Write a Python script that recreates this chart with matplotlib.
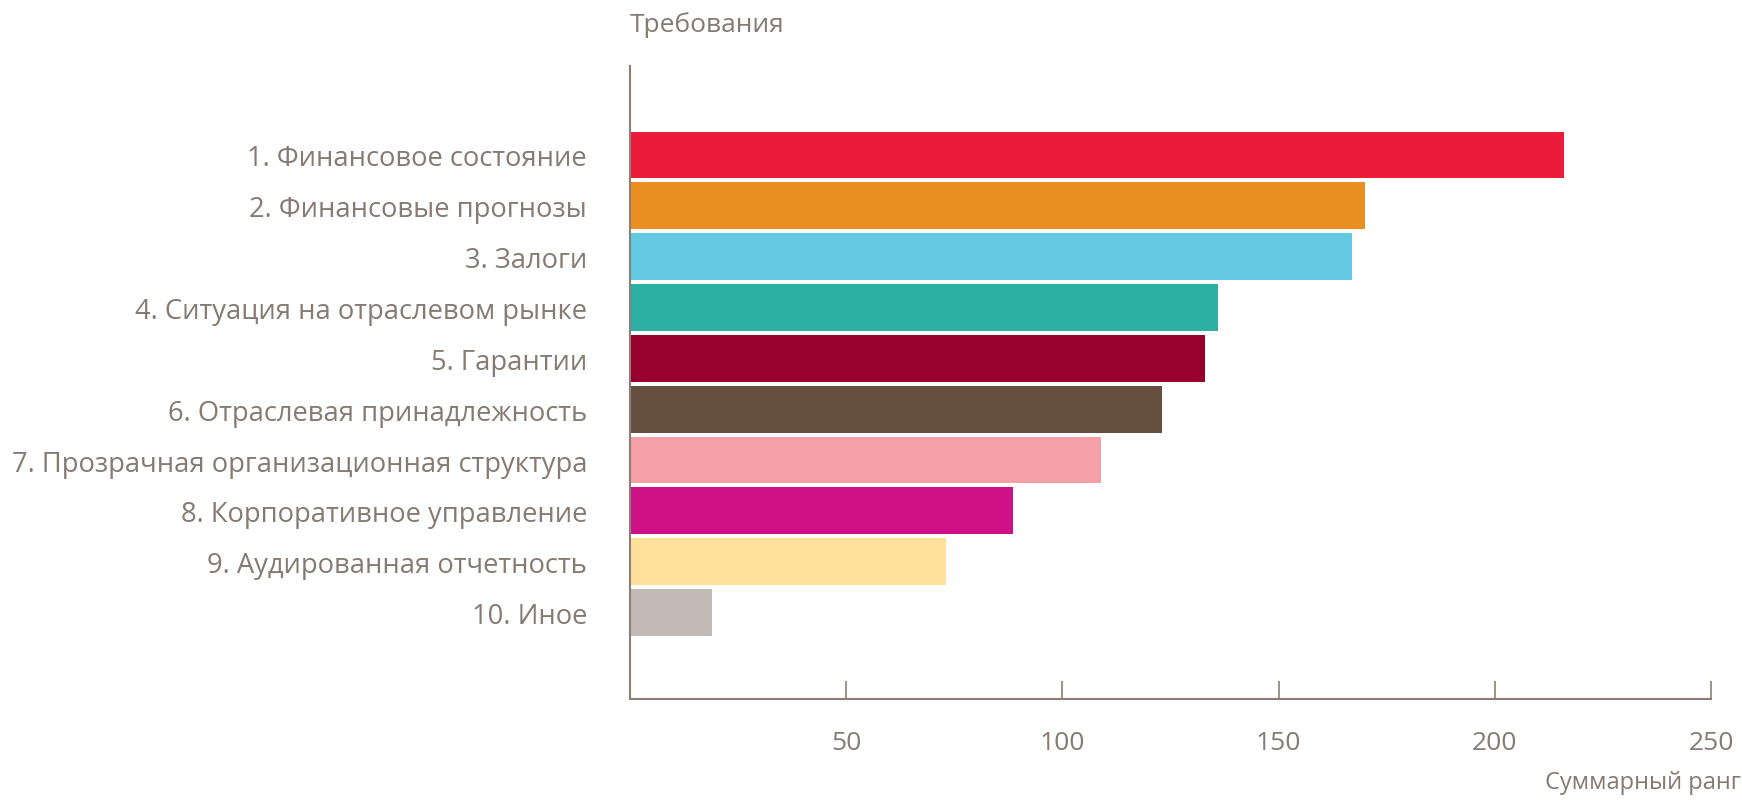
import matplotlib.pyplot as plt

categories = [
    "1. Финансовое состояние",
    "2. Финансовые прогнозы",
    "3. Залоги",
    "4. Ситуация на отраслевом рынке",
    "5. Гарантии",
    "6. Отраслевая принадлежность",
    "7. Прозрачная организационная структура",
    "8. Корпоративное управление",
    "9. Аудированная отчетность",
    "10. Иное",
]
values = [216, 170, 167, 136, 133, 123, 109, 88.5, 73, 19]
bar_colors = ["#ED1B3A", "#EA9022", "#63C9E3", "#2DAFA4", "#98002E",
              "#674F40", "#F4A0A6", "#CF1188", "#FFE09A", "#C4BAB5"]
xticks = [50, 100, 150, 200, 250]

text_color = "#857A74"
axis_color = "#8C7F78"

plt.rcParams["font.family"] = ["Open Sans", "DejaVu Sans"]

fig = plt.figure(figsize=(17.42, 8.03), dpi=100)
ax = fig.add_axes([0.3617, 0.1283, 0.9822 - 0.3617, 0.9166 - 0.1283])

pos = list(range(len(categories)))
ax.barh(pos, values, height=0.92, color=bar_colors, edgecolor="none")

ax.set_xlim(0, 250)
ax.set_ylim(10.7, -1.75)

ax.set_yticks(pos)
ax.set_yticklabels(categories, fontsize=19.7, color=text_color)
ax.tick_params(axis="y", length=0, pad=31)

ax.set_xticks(xticks)
ax.set_xticklabels([str(t) for t in xticks], fontsize=19, color=text_color)
ax.tick_params(axis="x", direction="in", length=13, width=1.2,
               color=axis_color, pad=22)

for side in ["top", "right"]:
    ax.spines[side].set_visible(False)
for side in ["left", "bottom"]:
    ax.spines[side].set_color(axis_color)
    ax.spines[side].set_linewidth(1.5)

fig.text(630 / 1742, 1 - 25 / 803, "Требования", fontsize=19,
         color=text_color, ha="left", va="center")
fig.text(1741 / 1742, 1 - 783 / 803, "Суммарный ранг", fontsize=17,
         color=text_color, ha="right", va="center")

fig.savefig("out.png", dpi=100)
